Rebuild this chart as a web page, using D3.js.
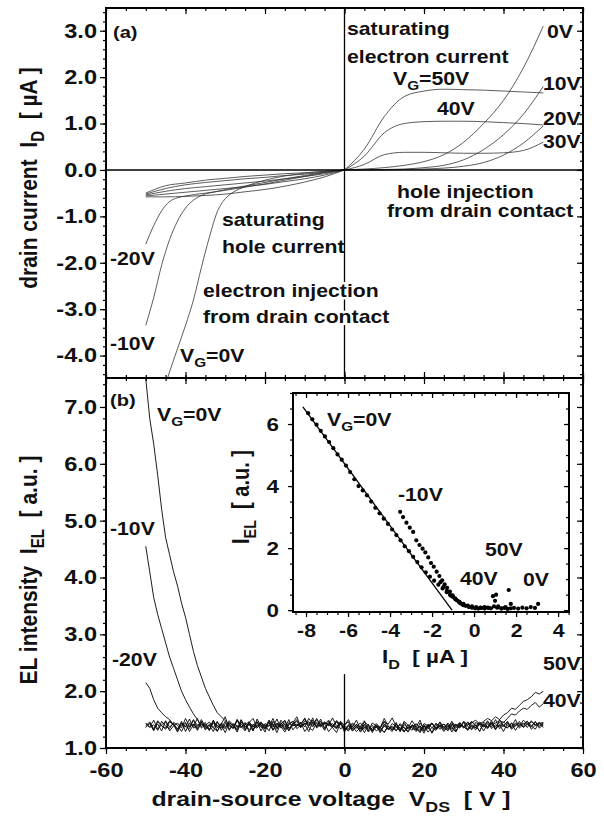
<!DOCTYPE html>
<html><head><meta charset="utf-8">
<script src="https://cdn.jsdelivr.net/npm/d3@7"></script>
<style>
body{margin:0;background:#fff}
text{font-family:"Liberation Sans",Arial,Helvetica,sans-serif;font-weight:bold;fill:#111;white-space:pre}
</style>
</head><body>
<svg id="c" width="604" height="816"></svg>
<script>
// ---------------- DATA ----------------
// panel (a): drain current I_D [uA] vs V_DS [V]
const vdsPos = [0,5,10,15,20,25,30,35,40,45,50];
const idPos_0  = [0,0.02,0.05,0.10,0.18,0.33,0.60,1.00,1.50,2.20,3.10];
const idPos_10 = [0,0.00,0.01,0.02,0.05,0.10,0.22,0.44,0.76,1.20,1.80];
const idPos_20 = [0,0.00,0.00,0.01,0.02,0.04,0.08,0.16,0.32,0.58,0.95];
const idPos_30 = [0,0.12,0.33,0.38,0.38,0.37,0.36,0.36,0.37,0.42,0.60];
const idPos_40 = [0,0.30,0.80,1.00,1.04,1.05,1.05,1.04,1.02,1.00,0.97];
const idPos_50 = [0,0.45,1.15,1.58,1.70,1.74,1.73,1.72,1.70,1.68,1.66];

const vdsNeg = [-50,-45,-40,-35,-30,-25,-20,-15,-10,-5,0];
const idNeg_10 = [-0.58,-0.58,-0.57,-0.55,-0.52,-0.47,-0.42,-0.35,-0.26,-0.15,0];
const idNeg_20 = [-0.56,-0.52,-0.48,-0.44,-0.40,-0.36,-0.31,-0.25,-0.19,-0.11,0];
const idNeg_30 = [-0.54,-0.46,-0.40,-0.36,-0.32,-0.28,-0.24,-0.19,-0.14,-0.08,0];
const idNeg_40 = [-0.52,-0.40,-0.32,-0.27,-0.23,-0.19,-0.16,-0.12,-0.09,-0.05,0];
const idNeg_50 = [-0.50,-0.34,-0.28,-0.22,-0.18,-0.14,-0.11,-0.08,-0.06,-0.03,0];

const vdsNeg_0 = [-50,-48,-46,-44,-42,-40,-38,-36,-34,-32,-30,-28,-25,-20,-15,-10,-5,0];
const idNeg_0  = [-5.9,-5.4,-4.9,-4.35,-3.85,-3.35,-2.8,-2.1,-1.45,-0.9,-0.62,-0.48,-0.36,-0.22,-0.13,-0.07,-0.03,0];
const vdsNeg_m10 = [-50,-48,-46,-44,-42,-40,-38,-36,-32,-28,-24,-20,-15,-10,-5,0];
const idNeg_m10  = [-3.35,-2.75,-2.05,-1.5,-1.1,-0.82,-0.65,-0.55,-0.46,-0.39,-0.33,-0.27,-0.19,-0.12,-0.05,0];
const vdsNeg_m20 = [-50,-48,-46,-44,-42,-40,-35,-30,-25,-20,-15,-10,-5,0];
const idNeg_m20  = [-1.6,-1.2,-0.88,-0.68,-0.6,-0.56,-0.5,-0.44,-0.37,-0.3,-0.22,-0.14,-0.06,0];

// panel (b): EL intensity [a.u.] sampled at V_DS = -50 ... 50 V, 1 V apart
const elV0 = -50;
const el_vg0 = [7.5,6.8,6.35,5.8,5.2,4.7,4.4,4.1,3.85,3.55,3.3,3.0,2.7,2.45,2.25,2.05,1.9,1.75,1.62,1.55,1.48,
1.42,1.35,1.50,1.38,1.30,1.45,1.52,1.36,1.41,1.28,1.47,1.39,1.33,1.49,1.40,1.31,1.44,1.55,1.37,1.42,
1.29,1.46,1.38,1.51,1.34,1.43,1.36,1.27,1.45,1.40,1.50,1.33,1.41,1.37,1.48,1.30,1.44,1.39,1.35,1.46,
1.42,1.53,1.38,1.31,1.47,1.40,1.36,1.29,1.44,1.34,1.41,1.26,1.38,1.45,1.32,1.40,1.35,1.28,1.43,1.37,
1.33,1.46,1.39,1.30,1.42,1.36,1.48,1.34,1.41,1.29,1.44,1.38,1.50,1.35,1.42,1.47,1.39,1.33,1.45,1.40];
const el_vgm10 = [4.55,4.1,3.65,3.35,3.1,2.85,2.6,2.4,2.2,2.0,1.85,1.72,1.6,1.5,
1.38,1.45,1.31,1.49,1.36,1.42,1.55,1.33,1.40,1.28,1.46,1.37,1.43,1.30,1.51,1.39,1.34,1.47,1.41,1.27,
1.44,1.36,1.50,1.32,1.40,1.45,1.29,1.38,1.53,1.35,1.42,1.31,1.47,1.39,1.34,1.44,1.28,1.41,1.37,1.49,
1.33,1.46,1.40,1.30,1.43,1.36,1.52,1.38,1.32,1.45,1.29,1.41,1.35,1.48,1.37,1.31,1.43,1.39,1.27,1.44,
1.36,1.42,1.33,1.47,1.30,1.40,1.38,1.45,1.34,1.41,1.29,1.46,1.37,1.43,1.32,1.50,1.39,1.35,1.44,1.31,
1.42,1.38,1.47,1.33,1.40,1.45,1.36];
const el_vgm20 = [2.15,2.05,1.85,1.7,1.62,1.55,1.5,
1.41,1.33,1.47,1.29,1.44,1.38,1.52,1.35,1.42,1.31,1.48,1.36,1.40,1.27,1.45,1.39,1.34,1.50,1.37,1.43,
1.30,1.46,1.41,1.35,1.49,1.32,1.44,1.38,1.28,1.42,1.47,1.34,1.40,1.53,1.36,1.31,1.45,1.39,1.43,1.29,
1.37,1.48,1.33,1.41,1.46,1.30,1.38,1.44,1.35,1.42,1.27,1.40,1.36,1.47,1.32,1.43,1.38,1.29,1.45,1.34,
1.41,1.37,1.49,1.31,1.39,1.44,1.33,1.46,1.36,1.42,1.28,1.40,1.35,1.47,1.38,1.32,1.45,1.41,1.30,1.43,
1.37,1.50,1.34,1.40,1.46,1.33,1.39,1.44,1.36,1.42,1.38,1.47,1.35,1.41];
const el_vg10 = [1.36,1.44,1.30,1.48,1.39,1.33,1.46,1.41,1.28,1.43,1.37,1.51,1.35,1.40,1.45,1.32,1.38,1.47,1.29,1.42,
1.36,1.44,1.39,1.31,1.49,1.34,1.41,1.37,1.46,1.30,1.43,1.38,1.52,1.35,1.40,1.33,1.45,1.39,1.42,1.36,
1.48,1.44,1.37,1.50,1.41,1.46,1.39,1.43,1.35,1.47,1.40,1.33,1.44,1.38,1.29,1.42,1.36,1.31,1.39,1.27,
1.41,1.34,1.37,1.30,1.43,1.35,1.28,1.40,1.33,1.38,1.26,1.42,1.36,1.31,1.39,1.34,1.44,1.37,1.29,1.41,
1.35,1.46,1.38,1.32,1.43,1.40,1.36,1.45,1.33,1.41,1.38,1.47,1.35,1.42,1.39,1.44,1.36,1.48,1.40,1.43,1.45];
const el_vg20 = [1.43,1.37,1.49,1.33,1.41,1.46,1.30,1.39,1.44,1.35,1.52,1.38,1.42,1.31,1.47,1.36,1.40,1.29,1.45,1.39,
1.34,1.48,1.41,1.37,1.43,1.32,1.46,1.38,1.35,1.44,1.40,1.30,1.47,1.36,1.42,1.49,1.34,1.41,1.38,1.45,
1.37,1.52,1.43,1.39,1.47,1.35,1.44,1.40,1.36,1.46,1.31,1.39,1.34,1.42,1.28,1.37,1.33,1.40,1.30,1.36,
1.27,1.38,1.32,1.41,1.35,1.29,1.37,1.31,1.43,1.34,1.39,1.28,1.36,1.42,1.33,1.38,1.30,1.40,1.35,1.44,
1.37,1.32,1.41,1.36,1.46,1.39,1.34,1.43,1.38,1.45,1.40,1.36,1.44,1.39,1.47,1.37,1.42,1.46,1.41,1.38,1.44];
const el_vg30 = [1.39,1.46,1.34,1.42,1.30,1.48,1.37,1.43,1.33,1.40,1.45,1.29,1.41,1.36,1.50,1.38,1.32,1.44,1.40,1.35,
1.47,1.31,1.43,1.39,1.36,1.45,1.28,1.42,1.38,1.46,1.33,1.40,1.37,1.51,1.35,1.43,1.30,1.41,1.47,1.36,
1.44,1.39,1.49,1.42,1.37,1.45,1.40,1.53,1.38,1.43,1.36,1.30,1.41,1.35,1.39,1.27,1.40,1.33,1.37,1.29,
1.42,1.34,1.38,1.31,1.36,1.28,1.41,1.35,1.32,1.39,1.30,1.37,1.43,1.34,1.40,1.29,1.38,1.33,1.42,1.36,
1.45,1.31,1.39,1.35,1.43,1.37,1.48,1.34,1.41,1.38,1.46,1.40,1.36,1.44,1.38,1.49,1.42,1.37,1.45,1.40,1.43];
const el_vg40 = [1.44,1.36,1.41,1.31,1.47,1.38,1.34,1.45,1.40,1.29,1.43,1.37,1.50,1.33,1.42,1.39,1.46,1.35,1.30,1.44,
1.38,1.41,1.34,1.48,1.37,1.43,1.32,1.40,1.46,1.36,1.39,1.45,1.31,1.42,1.38,1.47,1.35,1.41,1.50,1.37,
1.43,1.46,1.40,1.52,1.38,1.44,1.41,1.36,1.48,1.42,1.34,1.39,1.30,1.37,1.33,1.41,1.28,1.36,1.40,1.31,
1.38,1.35,1.29,1.42,1.34,1.37,1.30,1.40,1.36,1.27,1.39,1.33,1.44,1.35,1.41,1.37,1.31,1.42,1.38,1.45,
1.36,1.40,1.47,1.39,1.43,1.37,1.46,1.41,1.44,1.48,
1.45,1.52,1.60,1.58,1.65,1.70,1.68,1.75,1.80,1.72,1.78];
const el_vg50 = [1.37,1.43,1.32,1.46,1.39,1.35,1.48,1.41,1.30,1.44,1.38,1.34,1.49,1.40,1.45,1.33,1.42,1.36,1.47,1.31,
1.43,1.39,1.35,1.50,1.37,1.41,1.46,1.33,1.40,1.44,1.36,1.48,1.42,1.38,1.45,1.32,1.41,1.47,1.39,1.43,
1.51,1.40,1.46,1.37,1.44,1.42,1.49,1.38,1.45,1.41,1.35,1.31,1.38,1.29,1.36,1.33,1.40,1.30,1.37,1.34,
1.28,1.39,1.32,1.36,1.41,1.30,1.35,1.38,1.33,1.29,1.40,1.36,1.43,1.34,1.39,1.42,1.37,1.45,1.40,1.38,
1.46,1.41,1.44,1.49,1.42,1.47,1.52,1.48,
1.55,1.50,1.58,1.62,1.70,1.68,1.75,1.82,1.85,1.90,1.98,1.95,2.00];

// inset: I_EL vs I_D
const fitX = [-8.15,-1.05], fitY = [6.55,0];
const ins0X = [-7.9,-7.7,-7.5,-7.3,-7.1,-6.9,-6.7,-6.5,-6.3,-6.1,-5.9,-5.7,-5.5,-5.3,-5.1,-4.9,-4.7,-4.5,-4.3,-4.1,-3.9,-3.7,-3.5,-3.3,-3.1,-2.9,-2.7,-2.5,-2.3,-2.1,-1.9,-1.7,-1.5,-1.3,-1.1,-0.9,-0.7,-0.5,-0.3,-0.1,0.1,0.3,0.5,0.7,0.9,1.0,1.1,1.3,1.5,1.65,1.75,1.9,2.1,2.3,2.5,2.7,2.9,3.05];
const ins0Y = [6.35,6.15,5.98,5.78,5.6,5.42,5.22,5.02,4.85,4.66,4.45,4.22,4.0,3.86,3.7,3.5,3.3,3.12,2.95,2.78,2.6,2.42,2.25,2.06,1.9,1.72,1.55,1.38,1.22,1.08,0.95,0.82,0.7,0.58,0.46,0.36,0.27,0.2,0.15,0.12,0.1,0.08,0.1,0.07,0.45,0.3,0.08,0.06,0.1,0.65,0.2,0.07,0.05,0.08,0.06,0.1,0.07,0.2];
const insM10X = [-3.52,-3.38,-3.22,-3.06,-2.9,-2.75,-2.6,-2.45,-2.32,-2.18,-2.05,-1.92,-1.78,-1.65,-1.52,-1.4,-1.28,-1.15,-1.02,-0.9,-0.78,-0.65,-0.5];
const insM10Y = [3.17,3.0,2.82,2.66,2.52,2.25,2.1,1.98,1.86,1.7,1.52,1.4,1.24,1.1,0.96,0.83,0.72,0.6,0.48,0.38,0.3,0.22,0.16];
const insPosX = [-1.6,-1.45,-1.3,-1.15,-1.0,-0.85,-0.7,-0.55,-0.4,-0.25,-0.1,0.05,0.2,0.35,0.5,0.65,0.8,0.95,1.05,1.15,1.3,1.45,1.6,1.75];
const insPosY = [0.9,0.75,0.62,0.5,0.42,0.33,0.25,0.18,0.14,0.1,0.08,0.06,0.05,0.07,0.05,0.08,0.06,0.12,0.5,0.12,0.05,0.07,0.04,0.06];

// ticks
const xMajor = [-60,-40,-20,0,20,40,60];
const yaMajor = [-4,-3,-2,-1,0,1,2,3];
const ybMajor = [1,2,3,4,5,6,7];
const ixMajor = [-8,-6,-4,-2,0,2,4];
const iyMajor = [0,2,4,6];

// ---------------- LAYOUT ----------------
const SX = 1.18;
const L = 106, R = 583, T = 8, M = 378, B = 748;
const IL = 293, IR = 569, IT = 393, IB = 612;
const svg = d3.select('#c');
const defs = svg.append('defs');
function clip(id,x0,y0,x1,y1){defs.append('clipPath').attr('id',id).append('rect')
  .attr('x',x0).attr('y',y0).attr('width',x1-x0).attr('height',y1-y0);}
clip('ca',L,T,R,M); clip('cb',L,M,R,B); clip('ci',IL,IT,IR,IB);

const x = d3.scaleLinear().domain([-60,60]).range([L,R]);
const ya = d3.scaleLinear().domain([-4.483,3.49]).range([M,T]);
const yb = d3.scaleLinear().domain([1.0,7.51]).range([B,M]);
const ix = d3.scaleLinear().domain([-8.62,4.52]).range([IL,IR]);
const iy = d3.scaleLinear().domain([-0.06,7.0]).range([IB,IT]);

// ---------------- PANEL (a) curves ----------------
const curvesA = [
  [vdsPos,idPos_0],[vdsPos,idPos_10],[vdsPos,idPos_20],[vdsPos,idPos_30],[vdsPos,idPos_40],[vdsPos,idPos_50],
  [vdsNeg,idNeg_10],[vdsNeg,idNeg_20],[vdsNeg,idNeg_30],[vdsNeg,idNeg_40],[vdsNeg,idNeg_50],
  [vdsNeg_0,idNeg_0],[vdsNeg_m10,idNeg_m10],[vdsNeg_m20,idNeg_m20]
];
const lineA = d3.line().x(d=>x(d[0])).y(d=>ya(d[1])).curve(d3.curveMonotoneX);
svg.append('g').attr('clip-path','url(#ca)').selectAll('path').data(curvesA).join('path')
  .attr('d',c=>lineA(d3.zip(c[0],c[1]))).attr('fill','none').attr('stroke','#333').attr('stroke-width',0.8);

// ---------------- PANEL (b) curves ----------------
const curvesB = [el_vg0,el_vgm10,el_vgm20,el_vg10,el_vg20,el_vg30,el_vg40,el_vg50];
const lineB = d3.line().x((d,i)=>x(elV0+i)).y(d=>yb(d));
svg.append('g').attr('clip-path','url(#cb)').selectAll('path').data(curvesB).join('path')
  .attr('d',c=>lineB(c)).attr('fill','none').attr('stroke','#111').attr('stroke-width',0.95);

// zero lines
svg.append('line').attr('x1',L).attr('x2',R).attr('y1',ya(0)).attr('y2',ya(0)).attr('stroke','#000').attr('stroke-width',1.5);
svg.append('line').attr('x1',x(0)).attr('x2',x(0)).attr('y1',T).attr('y2',M).attr('stroke','#000').attr('stroke-width',1.3);
svg.append('line').attr('x1',x(0)).attr('x2',x(0)).attr('y1',yb(1)).attr('y2',yb(2.3)).attr('stroke','#000').attr('stroke-width',1.3);

// ---------------- AXES helpers ----------------
const AX = {left:d3.axisLeft,right:d3.axisRight,top:d3.axisTop,bottom:d3.axisBottom};
function tickSet(orient,scale,vals,len,tx,ty){
  const g = svg.append('g').attr('transform',`translate(${tx},${ty})`)
    .call(AX[orient](scale).tickValues(vals).tickSize(len).tickFormat(''));
  g.select('.domain').remove();
  g.selectAll('line').attr('stroke','#000').attr('stroke-width',1.2);
}
function tickLabels(orient,scale,vals,fmt,pad,fs,tx,ty){
  const g = svg.append('g').attr('transform',`translate(${tx},${ty})`)
    .call(AX[orient](scale).tickValues(vals).tickSize(0).tickPadding(pad).tickFormat(fmt));
  g.select('.domain').remove(); g.selectAll('line').remove();
  g.attr('font-family',null).attr('font-size',null);
  g.selectAll('text').style('font-size',fs+'px').attr('fill','#000').attr('transform',`scale(${SX},1)`);
  if(orient==='left') g.selectAll('text').attr('x',-pad/SX);
}
const f1 = v=>v.toFixed(1), f0 = v=>String(v);

// main axes ticks
const xMinor = d3.range(-60,60.01,5);
const yaMinor = d3.range(-4.4,3.45,0.2);
const ybMinor = d3.range(1,7.45,0.2);
tickSet('top',x,xMinor,-3,0,T); tickSet('top',x,xMajor,-6,0,T);
tickSet('bottom',x,xMinor,-3,0,M); tickSet('bottom',x,xMajor,-6,0,M);
tickSet('top',x,xMinor,-3,0,M); tickSet('top',x,xMajor,-6,0,M);
tickSet('bottom',x,xMinor,3,0,B); tickSet('bottom',x,xMajor,6,0,B);
tickSet('left',ya,yaMinor,3,L,0); tickSet('left',ya,yaMajor,6,L,0);
tickSet('right',ya,yaMinor,-3,R,0); tickSet('right',ya,yaMajor,-6,R,0);
tickSet('left',yb,ybMinor,3,L,0); tickSet('left',yb,ybMajor,6,L,0);
tickSet('right',yb,ybMinor,-3,R,0); tickSet('right',yb,ybMajor,-6,R,0);
tickLabels('left',ya,yaMajor,f1,9,20,L,0);
tickLabels('left',yb,ybMajor,f1,9,20,L,0);
tickLabels('bottom',x,xMajor,f0,15,20,0,B);

// frames
svg.append('rect').attr('x',L).attr('y',T).attr('width',R-L).attr('height',M-T).attr('fill','none').attr('stroke','#000').attr('stroke-width',2);
svg.append('rect').attr('x',L).attr('y',M).attr('width',R-L).attr('height',B-M).attr('fill','none').attr('stroke','#000').attr('stroke-width',2);

// ---------------- INSET ----------------
svg.append('rect').attr('x',IL).attr('y',IT).attr('width',IR-IL).attr('height',IB-IT).attr('fill','#fff');
const gi = svg.append('g').attr('clip-path','url(#ci)');
gi.append('path').attr('d',d3.line().x(d=>ix(d[0])).y(d=>iy(d[1]))(d3.zip(fitX,fitY)))
  .attr('stroke','#000').attr('stroke-width',1.3).attr('fill','none');
[[ins0X,ins0Y],[insM10X,insM10Y],[insPosX,insPosY]].forEach(s=>{
  gi.append('g').selectAll('circle').data(d3.zip(s[0],s[1])).join('circle')
    .attr('cx',d=>ix(d[0])).attr('cy',d=>iy(d[1])).attr('r',2.1).attr('fill','#000');
});
const ixMinor = d3.range(-8.5,4.51,0.5), iyMinor = d3.range(0,7.01,0.5);
tickSet('bottom',ix,ixMinor,3,0,IB); tickSet('bottom',ix,ixMajor,5,0,IB);
tickSet('top',ix,ixMinor,-3,0,IT); tickSet('top',ix,ixMajor,-5,0,IT);
tickSet('left',iy,iyMinor,3,IL,0); tickSet('left',iy,iyMajor,5,IL,0);
tickSet('right',iy,iyMinor,-3,IR,0); tickSet('right',iy,iyMajor,-5,IR,0);
tickLabels('bottom',ix,ixMajor,f0,12,18,0,IB);
tickLabels('left',iy,iyMajor,f0,14,19,IL,0);
svg.append('rect').attr('x',IL).attr('y',IT).attr('width',IR-IL).attr('height',IB-IT).attr('fill','none').attr('stroke','#000').attr('stroke-width',2);

// ---------------- TEXT ----------------
function txt(px,py,parts,fs,opt={}){
  const tr = opt.rot ? `translate(${px},${py}) rotate(-90) scale(1,${SX})` : `translate(${px},${py}) scale(${SX},1)`;
  const t = svg.append('text').attr('transform',tr).style('font-size',fs+'px').attr('text-anchor',opt.anchor||'start');
  if(opt.halo) t.attr('stroke','#fff').attr('stroke-width',5).attr('paint-order','stroke').attr('stroke-linejoin','round');
  let sub=false;
  parts.forEach(p=>{
    const isSub = Array.isArray(p);
    const ts = t.append('tspan').text(isSub?p[0]:p);
    if(isSub){ ts.style('font-size',(fs*0.72)+'px'); if(!sub){ts.attr('dy',fs*0.3); sub=true;} }
    else if(sub){ ts.attr('dy',-fs*0.3); sub=false; }
  });
  return t;
}
// panel (a)
txt(113,38,['(a)'],17);
txt(347,35,['saturating'],18);
txt(347,63,['electron current'],18);
txt(393,85,['V',['G'],'=50V'],18);
txt(437,115,['40V'],18);
txt(547,38,['0V'],18);
txt(543,90,['10V'],18);
txt(543,125,['20V'],18);
txt(543,148,['30V'],18);
txt(397,198,['hole injection'],18);
txt(387,217,['from drain contact'],18);
txt(222,226,['saturating'],18);
txt(222,253,['hole current'],18);
txt(203,297,['electron injection'],18,{halo:true});
txt(203,323,['from drain contact'],18,{halo:true});
txt(110,265,['-20V'],18);
txt(110,350,['-10V'],18);
txt(180,362,['V',['G'],'=0V'],18);
// panel (b)
txt(110,406,['(b)'],17);
txt(157,421,['V',['G'],'=0V'],18);
txt(110,535,['-10V'],18);
txt(112,666,['-20V'],18);
txt(543,670,['50V'],18);
txt(543,707,['40V'],18);
// inset
txt(327,426,['V',['G'],'=0V'],18);
txt(398,501,['-10V'],18);
txt(485,556,['50V'],18);
txt(460,585,['40V'],18);
txt(523,586,['0V'],18);
txt(382,663,['I',['D'],'  [ µA ]'],19);
txt(249,497,['I',['EL'],'  [ a.u. ]'],20,{rot:true,anchor:'middle'});
// axis titles
txt(37,178,['drain current  I',['D'],'  [ µA ]'],21,{rot:true,anchor:'middle'});
txt(37,570,['EL intensity  I',['EL'],'  [ a.u. ]'],21,{rot:true,anchor:'middle'});
txt(331,806,['drain-source voltage  V',['DS'],'  [ V ]'],21,{anchor:'middle'});
</script>
</body></html>
